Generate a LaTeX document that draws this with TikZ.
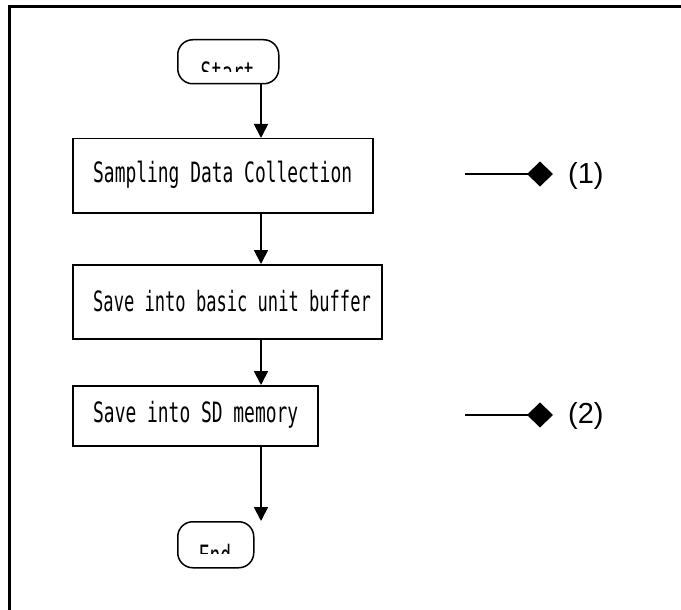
\documentclass[tikz,border=0pt]{standalone}
\usepackage{fontspec}
\usetikzlibrary{arrows.meta,shapes.geometric}
\newfontfamily\monof[FakeStretch=0.64]{DejaVu Sans Mono}
\newfontfamily\monofn[FakeStretch=0.61]{DejaVu Sans Mono}
\newfontfamily\labf{Liberation Sans}
\tikzset{
  procbox/.style={draw, line width=1.5pt, rectangle, inner sep=0pt, anchor=north west},
  termbox/.style={draw, line width=1.5pt, rectangle, rounded corners=15pt, inner sep=0pt, anchor=north west},
  flowarrow/.style={line width=1.8pt, -{Triangle[width=14pt,length=14pt]}},
  marker/.style={line width=1.8pt, -{Diamond[width=25pt,length=26pt]}},
  boxtext/.style={font=\monof\fontsize{28}{30}\selectfont, inner sep=0pt},
  boxtextn/.style={font=\monofn\fontsize{28}{30}\selectfont, inner sep=0pt},
  numtext/.style={font=\labf\fontsize{29}{32}\selectfont, inner sep=0pt, anchor=west}
}
\begin{document}
\begin{tikzpicture}[x=1pt,y=-1pt]
\useasboundingbox (0,0) rectangle (681,610);
\clip (0,0) rectangle (681,610);
\fill[white] (0,0) rectangle (681,610);
\draw[line width=3pt] (9,7) rectangle (720,660);

% terminals
\node[termbox, minimum width=101pt, minimum height=44pt] (start) at (177,39) {};
\begin{scope}
  \clip (177,39) rectangle (278,72);
  \node[boxtext, anchor=north] (starttxt) at (227.5,62) {Start};
\end{scope}

\node[termbox, minimum width=76pt, minimum height=46pt] (end) at (177,521) {};
\begin{scope}
  \clip (177,521) rectangle (253,553);
  \node[boxtext, anchor=north] (endtxt) at (215,544) {End};
\end{scope}

% process boxes
\node[procbox, minimum width=300pt, minimum height=74pt] (b1) at (72,138) {};
\node[boxtext, anchor=west] (t1) at (93,175) {Sampling Data Collection};
\node[procbox, minimum width=309pt, minimum height=74pt] (b2) at (72,264) {};
\node[boxtextn, anchor=west] (t2) at (93,301) {Save into basic unit buffer};
\node[procbox, minimum width=245pt, minimum height=60pt] (b3) at (72,385) {};
\node[boxtext, anchor=west] (t3) at (93,415) {Save into SD memory};

% connectors
\coordinate (s0) at (261,83);
\coordinate (s1) at (261,138);
\coordinate (s2) at (261,212);
\coordinate (s3) at (261,264);
\coordinate (s4) at (261,338);
\coordinate (s5) at (261,385);
\coordinate (s6) at (261,445);
\coordinate (s7) at (261,521);
\draw[flowarrow] (s0) -- (s1);
\draw[flowarrow] (s2) -- (s3);
\draw[flowarrow] (s4) -- (s5);
\draw[flowarrow] (s6) -- (s7);

% markers
\coordinate (m1a) at (465,174);
\coordinate (m1b) at (553,174);
\coordinate (m2a) at (465,415);
\coordinate (m2b) at (553,415);
\draw[marker] (m1a) -- (m1b);
\draw[marker] (m2a) -- (m2b);
\node[numtext] (n1) at (568,176) {(1)};
\node[numtext] (n2) at (568,416) {(2)};
\end{tikzpicture}
\end{document}
